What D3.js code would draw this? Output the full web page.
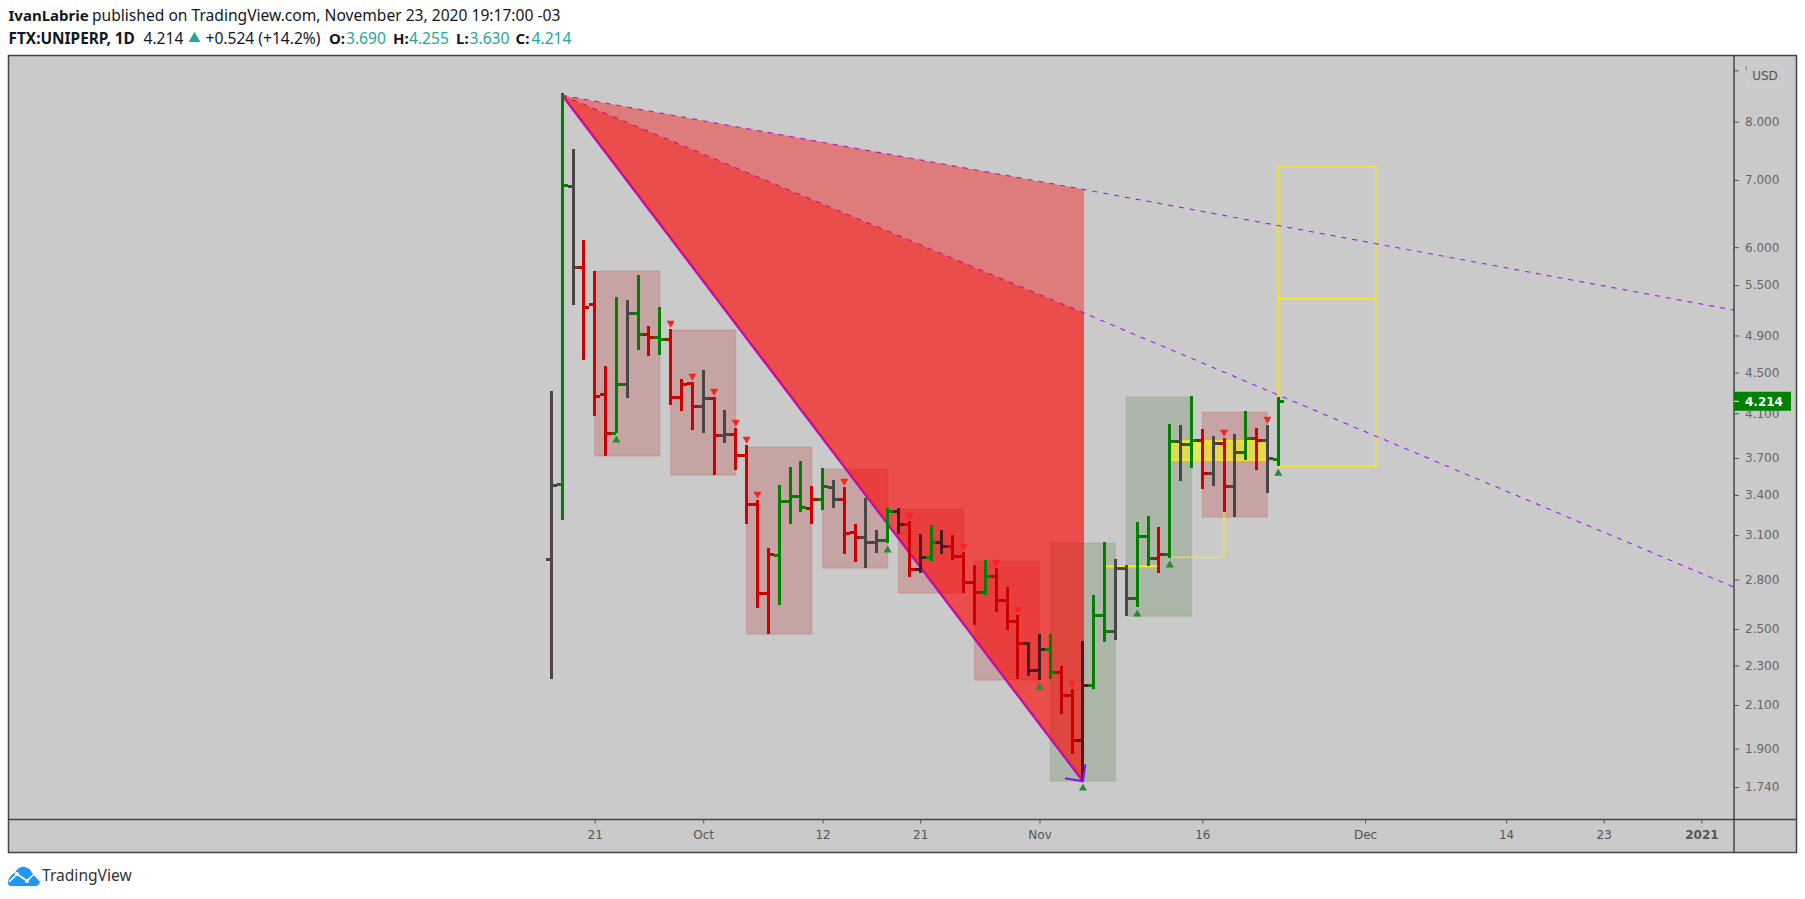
<!DOCTYPE html>
<html><head><meta charset="utf-8">
<script src="https://cdnjs.cloudflare.com/ajax/libs/d3/7.8.5/d3.min.js"></script>
<style>html,body{margin:0;padding:0;background:#fff}svg{display:block}</style>
</head><body><svg id="c" width="1805" height="899"></svg>
<script>
// ---------- data ----------
const firstBar = "2020-09-17";
const barHigh  = [4.313,8.544,7.514,6.099,5.680,4.568,5.351,5.315,5.628,5.006,5.230,4.972,4.434,4.404,4.526,4.254,4.129,3.962,3.811,3.359,3.009,3.477,3.623,3.674,3.469,3.615,3.517,3.461,3.179,3.375,3.136,3.298,3.298,3.201,3.107,3.171,3.136,3.100,2.981,2.894,2.927,2.874,2.752,2.580,2.426,2.470,2.470,2.296,2.178,2.431,2.702,3.051,2.934,2.894,3.193,3.238,3.157,3.999,3.990,4.264,3.953,3.890,3.873,3.908,4.120,3.962,3.990,4.255];
const barLow   = [2.228,3.208,5.254,4.631,4.072,3.716,3.917,4.244,4.739,4.673,4.685,4.177,4.120,3.944,3.917,3.557,3.829,3.598,3.179,2.622,2.470,2.640,3.179,3.268,3.179,3.283,3.298,2.968,2.914,2.874,2.975,3.044,3.107,2.815,2.841,2.920,2.968,2.927,2.714,2.522,2.702,2.598,2.493,2.228,2.244,2.223,2.228,2.056,1.876,1.763,2.178,2.426,2.437,2.574,2.628,2.887,2.841,2.940,3.509,3.615,3.445,3.469,3.268,3.230,3.682,3.598,3.413,3.630];
const barOpen  = [2.930,3.485,6.903,5.732,5.266,4.283,3.917,4.384,5.158,4.916,4.882,4.860,4.254,4.394,4.167,4.244,3.899,3.908,3.724,3.328,2.714,2.961,3.351,3.390,3.298,3.367,3.461,3.367,3.121,3.086,3.051,3.065,3.275,3.179,2.868,2.947,3.051,3.023,2.954,2.783,2.720,2.822,2.671,2.545,2.420,2.275,2.387,2.264,2.148,1.937,2.198,2.580,2.487,2.874,2.683,3.093,2.940,2.968,3.846,3.820,3.855,3.574,3.829,3.469,3.750,3.873,3.855,3.690];
const barClose = [3.477,6.918,5.732,5.230,4.264,3.917,4.384,5.158,4.916,4.882,4.860,4.254,4.384,4.167,4.244,3.899,3.908,3.724,3.328,2.714,2.968,3.351,3.390,3.306,3.367,3.469,3.367,3.114,3.086,3.051,3.065,3.275,3.179,2.868,2.947,3.051,3.023,2.954,2.783,2.720,2.822,2.671,2.545,2.420,2.275,2.387,2.264,2.148,1.937,2.198,2.580,2.487,2.874,2.683,3.093,2.940,2.968,3.846,3.820,3.855,3.574,3.829,3.469,3.750,3.873,3.855,3.699,4.214];
const barColor = "kgkrrrgkgrgrrrkrkrrrrgggrgkrrkkgmrmgmrrrgrrrmmgrrmggkkggrgkgrkrkgrkg".split("");
const sellSignals = [11,13,15,17,18,19,27,33,38,41,43,48,62,66];
const buySignals  = [6,31,45,49,54,57,67];

const redBoxStart = [4,11,18,25,32,39,60];
const redBoxEnd   = [10,17,24,31,38,45,66];
const redBoxTop   = [5.680,4.961,3.793,3.606,3.290,2.920,4.111];
const redBoxBot   = [3.716,3.557,2.470,2.874,2.714,2.223,3.230];
const greenBoxStart = [46,53];
const greenBoxEnd   = [52,59];
const greenBoxTop   = [3.044,4.254];
const greenBoxBot   = [1.763,2.574];

const apexBar = 1, apexPrice = 8.50;
const pivotBar = 49, pivotPrice = 1.763, fanBar = 49.1;
const fanPrices = [5.158, 6.848];
const fanEndBar = 109, fanEndPrices = [2.752, 5.194];

const targetBarStart = 67, targetBarEnd = 76;
const targetLevels = [7.21, 5.327, 3.631];

const yTicks = [9,8,7,6,5.5,4.9,4.5,4.1,3.7,3.4,3.1,2.8,2.5,2.3,2.1,1.9,1.74];
const xTickDates = ["2020-09-21","2020-10-01","2020-10-12","2020-10-21","2020-11-01","2020-11-16","2020-12-01","2020-12-14","2020-12-23","2021-01-01"];
const xTickLabels = ["21","Oct","12","21","Nov","16","Dec","14","23","2021"];
const lastPrice = 4.214;

// ---------- layout ----------
const svg = d3.select("#c");
const pane = {l:8.5, t:55.5, r:1734, b:819.5, R:1796.5, B:852.5};
const bg = "#cacaca";
const start = new Date(firstBar+"T00:00:00Z");
const x = d3.scaleUtc().domain([start, new Date("2021-01-01T00:00:00Z")]).range([551.3, 1701.4]);
const y = d3.scaleLog().domain([8, 1.74]).range([121.7, 787]);
const X = i => x(new Date(+start + i*864e5));

svg.append("rect").attr("x",pane.l).attr("y",pane.t).attr("width",pane.R-pane.l).attr("height",pane.B-pane.t).attr("fill",bg);
const defs = svg.append("defs");
defs.append("clipPath").attr("id","pc").append("rect").attr("x",pane.l).attr("y",pane.t).attr("width",pane.r-pane.l).attr("height",pane.b-pane.t);
const g = svg.append("g").attr("clip-path","url(#pc)");

// boxes
function boxes(st,en,tp,bt,fill,stroke){
  g.append("g").selectAll("rect").data(st).join("rect")
   .attr("x",(d,i)=>X(st[i])).attr("width",(d,i)=>X(en[i])-X(st[i]))
   .attr("y",(d,i)=>y(tp[i])).attr("height",(d,i)=>y(bt[i])-y(tp[i]))
   .attr("fill",fill).attr("stroke",stroke).attr("stroke-width",1.5);
}
boxes(redBoxStart,redBoxEnd,redBoxTop,redBoxBot,"rgba(193,34,34,0.22)","rgba(193,34,34,0.12)");
boxes(greenBoxStart,greenBoxEnd,greenBoxTop,greenBoxBot,"rgba(62,112,42,0.2)","rgba(62,112,42,0.1)");

// yellow target zones
const yellow="#ffee00";
g.append("rect").attr("x",X(57)).attr("width",X(66)-X(57)).attr("y",y(3.846)).attr("height",y(3.682)-y(3.846)).attr("fill","rgba(255,255,0,0.55)");
g.append("line").attr("x1",X(57)).attr("x2",X(66)).attr("y1",y(3.846)).attr("y2",y(3.846)).attr("stroke",yellow).attr("stroke-width",1.5);
g.append("line").attr("x1",X(57)).attr("x2",X(66)).attr("y1",y(3.682)).attr("y2",y(3.682)).attr("stroke",yellow).attr("stroke-width",1.5);
g.append("path").attr("fill","none").attr("stroke",yellow).attr("stroke-width",1)
  .attr("d",`M${X(57)},${y(3.82)}H${X(62)}V${y(2.947)}H${X(57)}`);
g.append("line").attr("x1",X(51)).attr("x2",X(56)).attr("y1",y(2.887)).attr("y2",y(2.887)).attr("stroke",yellow).attr("stroke-width",2);
targetLevels.slice(0,2).forEach((lv,i)=>{
  g.append("rect").attr("x",X(targetBarStart)).attr("width",X(targetBarEnd)-X(targetBarStart))
   .attr("y",y(lv)).attr("height",y(targetLevels[i+1])-y(lv)).attr("fill","none").attr("stroke",yellow).attr("stroke-width",1.2);
});

// fan
const P = (b,p)=>[X(b),y(p)];
const apex=P(apexBar,apexPrice), pivot=P(pivotBar,pivotPrice);
const purple="#a020f0";
g.append("line").attr("x1",apex[0]).attr("y1",apex[1]).attr("x2",pivot[0]).attr("y2",pivot[1]).attr("stroke",purple).attr("stroke-width",2.4);
fanPrices.forEach((p,i)=>{
  const e=P(fanBar,p), f=P(fanEndBar,fanEndPrices[i]);
  g.append("path").attr("d",`M${apex}L${e}L${f}`).attr("fill","none").attr("stroke",purple).attr("stroke-width",1.1).attr("stroke-dasharray","5 6");
});
const lineGen=d3.line();
g.append("path").attr("d",lineGen([apex,P(fanBar,pivotPrice),P(fanBar,fanPrices[0])])+"Z").attr("fill","rgba(255,0,0,0.62)");
g.append("path").attr("d",lineGen([apex,P(fanBar,fanPrices[0]),P(fanBar,fanPrices[1])])+"Z").attr("fill","rgba(255,0,0,0.39)");
g.append("line").attr("x1",apex[0]).attr("y1",apex[1]).attr("x2",pivot[0]).attr("y2",pivot[1]).attr("stroke","#d4088c").attr("stroke-width",1.4);

// bars
const colors={g:"#008000",r:"#cc0000",k:"#4a4646",m:"#4a1c1c"};
const bars=g.append("g").attr("shape-rendering","crispEdges");
barHigh.forEach((h,i)=>{
  const c=colors[barColor[i]], cx=X(i);
  bars.append("rect").attr("x",cx-1.5).attr("width",3).attr("y",y(h)).attr("height",y(barLow[i])-y(h)).attr("fill",c);
  bars.append("rect").attr("x",cx-5.5).attr("width",5).attr("y",y(barOpen[i])-1.5).attr("height",3).attr("fill",c);
  bars.append("rect").attr("x",cx+.5).attr("width",5).attr("y",y(barClose[i])-1.5).attr("height",3).attr("fill",c);
});

// pivot mark
g.append("path").attr("d",`M${X(pivotBar)-18},${y(pivotPrice)-3}L${X(pivotBar)},${y(pivotPrice)}L${X(pivotBar)+2.5},${y(pivotPrice)-17}`)
 .attr("fill","none").attr("stroke","#9010f0").attr("stroke-width",2);

// signals
const tri=d3.symbol().type(d3.symbolTriangle).size(28);
g.append("g").selectAll("path").data(sellSignals).join("path")
 .attr("d",tri).attr("transform",d=>`translate(${X(d)},${y(barHigh[d])-6}) rotate(180)`).attr("fill","#ff2020");
g.append("g").selectAll("path").data(buySignals).join("path")
 .attr("d",tri).attr("transform",d=>`translate(${X(d)},${y(barLow[d])+7})`).attr("fill","#2a8a2a");

// frame
const frame="#444";
svg.append("rect").attr("x",pane.l).attr("y",pane.t).attr("width",pane.R-pane.l).attr("height",pane.B-pane.t).attr("fill","none").attr("stroke",frame).attr("stroke-width",1.5);
svg.append("line").attr("x1",pane.r).attr("x2",pane.r).attr("y1",pane.t).attr("y2",pane.B).attr("stroke",frame).attr("stroke-width",1.5);
svg.append("line").attr("x1",pane.l).attr("x2",pane.R).attr("y1",pane.b).attr("y2",pane.b).attr("stroke",frame).attr("stroke-width",1.5);

// axes
const yAxis=d3.axisRight(y).tickValues(yTicks).tickFormat(d3.format(".3f")).tickSize(5).tickPadding(6);
const ya=svg.append("g").attr("transform",`translate(${pane.r},0)`).call(yAxis);
ya.select(".domain").remove();
ya.selectAll("line").attr("stroke","#555");
ya.selectAll("text").attr("font-family","'DejaVu Sans'").attr("font-size",12).attr("fill","#666");
const xAxis=d3.axisBottom(x).tickValues(xTickDates.map(d=>new Date(d+"T00:00:00Z"))).tickFormat((d,i)=>xTickLabels[i]).tickSize(4).tickPadding(7);
const xa=svg.append("g").attr("transform",`translate(0,${pane.b})`).call(xAxis);
xa.select(".domain").remove();
xa.selectAll("line").attr("stroke","#555");
xa.selectAll("text").attr("font-family","'DejaVu Sans'").attr("font-size",12).attr("fill","#555")
  .attr("font-weight",(d,i)=>xTickLabels[i]==="2021"?"bold":"normal");

// USD box
svg.append("rect").attr("x",1747).attr("y",65).attr("width",36).attr("height",22).attr("rx",4).attr("fill",bg).attr("stroke","#d2d2d8");
svg.append("text").attr("x",1765).attr("y",80).attr("text-anchor","middle").attr("font-family","'DejaVu Sans'").attr("font-size",12).attr("fill","#555").text("USD");

// last price
svg.append("rect").attr("x",pane.r).attr("y",y(lastPrice)-9.5).attr("width",57).attr("height",19).attr("fill","#008000");
svg.append("line").attr("x1",pane.r).attr("x2",pane.r+5).attr("y1",y(lastPrice)).attr("y2",y(lastPrice)).attr("stroke","#fff");
svg.append("text").attr("x",pane.r+11).attr("y",y(lastPrice)+4.5).attr("font-family","'DejaVu Sans'").attr("font-size",12).attr("font-weight","bold").attr("fill","#fff").text(d3.format(".3f")(lastPrice));

// header
const hf="'Noto Sans'", dark="#131722", teal="#26a69a";
function t(xp,yp,s,o={}){return svg.append("text").attr("x",xp).attr("y",yp).attr("font-family",o.f||hf).attr("font-size",o.s||15.6).attr("font-weight",o.w||"normal").attr("fill",o.c||dark).text(s);}
t(8.5,21,"IvanLabrie",{w:"bold",s:15});
t(92,21,"published on TradingView.com, November 23, 2020 19:17:00 -03");
t(8.5,44,"FTX:UNIPERP, 1D",{w:"bold",s:15.4});
t(143.5,44,"4.214");
svg.append("path").attr("d",d3.symbol().type(d3.symbolTriangle).size(60)).attr("transform","translate(194.5,38.5)").attr("fill",teal);
t(205.5,44,"+0.524 (+14.2%)");
[["O:",329,"3.690",346],["H:",393,"4.255",409],["L:",456,"3.630",469.6],["C:",515.5,"4.214",531.6]].forEach(a=>{
  t(a[1],44,a[0],{w:"bold",s:15}); t(a[3],44,a[2],{c:teal});
});

// logo
const lg=svg.append("g").attr("transform","translate(8,866)");
lg.append("path").attr("fill","#2196f3").attr("d","M0,15 C1,11 4,8 7,7 C9,2 14,0 17,1 C21,2 23,4 24,7 C27,8 30,11 32,15 C32,18 30,20 27,20 L4,20 C1,20 -1,18 0,15Z");
lg.append("path").attr("fill","none").attr("stroke","#fff").attr("stroke-width",1.6).attr("d","M1,16 L9,8 L19,15 L26,8 L32,15");
lg.append("circle").attr("cx",9).attr("cy",8).attr("r",2).attr("fill","#fff");
lg.append("circle").attr("cx",19).attr("cy",15).attr("r",2).attr("fill","#fff");
t(42,881,"TradingView",{s:15.6,c:"#333"});
</script></body></html>
